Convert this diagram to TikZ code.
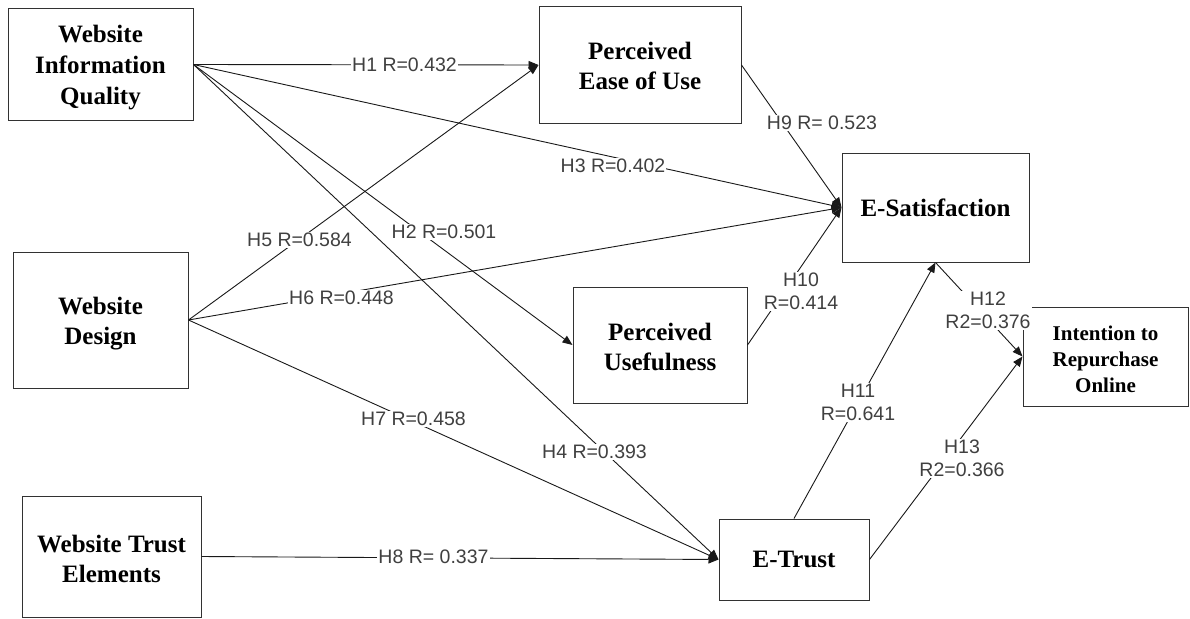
\documentclass[tikz,border=0pt]{standalone}
\usepackage{fontspec}
\setmainfont{Liberation Serif}
\newfontfamily\lblfont{Liberation Sans}
\usetikzlibrary{arrows.meta}
\definecolor{boxc}{RGB}{50,50,50}
\definecolor{linec}{RGB}{25,25,25}
\definecolor{lblc}{RGB}{64,64,64}
\begin{document}
\begin{tikzpicture}[x=1pt,y=-1pt,
 box/.style={draw=boxc,line width=1pt,inner sep=0pt,align=center,font=\bfseries\fontsize{25}{30}\selectfont},
 conn/.style={draw=linec,line width=0.9pt},
 arr/.style={conn,-{Triangle[length=10pt,width=8pt]}},
 lbl/.style={fill=white,inner sep=1pt,text=lblc,align=center,font=\lblfont\fontsize{19.5}{23}\selectfont}]
\useasboundingbox[fill=white] (0,0) rectangle (1190,618);
% boxes
\node[box,minimum width=185pt,minimum height=111pt,font=\bfseries\fontsize{25}{31}\selectfont] (wiq) at (100.5,64.5) {\rule{0pt}{23pt}Website\\Information\\Quality};
\node[box,minimum width=202pt,minimum height=116pt] (peou) at (640,65) {\rule{0pt}{20pt}Perceived\\Ease of Use};
\node[box,minimum width=187pt,minimum height=109pt] (es) at (935.5,207.5) {E-Satisfaction};
\node[box,minimum width=175pt,minimum height=136pt] (wd) at (100.5,320) {\rule{0pt}{25pt}Website\\Design};
\node[box,minimum width=174pt,minimum height=116pt] (pu) at (660,345) {\rule{0pt}{21pt}Perceived\\Usefulness};
\node[box,minimum width=165pt,minimum height=99pt,font=\bfseries\fontsize{21}{26}\selectfont] (ir) at (1105.5,356.5) {\rule{0pt}{20pt}Intention to\\Repurchase\\Online};
\node[box,minimum width=179pt,minimum height=121pt] (wte) at (111.5,556.5) {\rule{0pt}{23pt}Website Trust\\Elements};
\node[box,minimum width=150pt,minimum height=81pt] (et) at (794,559.5) {E-Trust};
% connectors
\draw[arr] (wiq.east) -- (peou.west);
\draw[arr] (wiq.east) -- (es.west);
\draw[arr] (wiq.east) -- (pu.west);
\draw[arr] (wiq.east) -- (et.west);
\draw[arr] (wd.east) -- (peou.west);
\draw[arr] (wd.east) -- (es.west);
\draw[arr] (wd.east) -- (et.west);
\draw[arr] (wte.east) -- (et.west);
\draw[arr] (peou.east) -- (es.west);
\draw[arr] (pu.east) -- (es.west);
\draw[arr] (et.north) -- (es.south);
\draw[arr] (es.south) -- (ir.west);
\draw[arr] (et.east) -- (ir.west);
% labels
\node[lbl] (l1) at (404.5,65) {H1 R=0.432};
\node[lbl] (l3) at (613,166) {H3 R=0.402};
\node[lbl] (l5) at (299.5,240) {H5 R=0.584};
\node[lbl] (l2) at (444,232) {H2 R=0.501};
\node[lbl] (l6) at (341.5,298) {H6 R=0.448};
\node[lbl] (l7) at (413.5,419) {H7 R=0.458};
\node[lbl] (l4) at (594.5,452) {H4 R=0.393};
\node[lbl] (l8) at (433.5,557) {H8 R= 0.337};
\node[lbl] (l9) at (822,123) {H9 R= 0.523};
\node[lbl] (l10) at (801,291.5) {H10\\R=0.414};
\node[lbl] (l11) at (858,402.5) {H11\\R=0.641};
\node[lbl] (l12) at (988,310.5) {H12\\R2=0.376};
\node[lbl] (l13) at (962,458.5) {H13\\R2=0.366};
\end{tikzpicture}
\end{document}
